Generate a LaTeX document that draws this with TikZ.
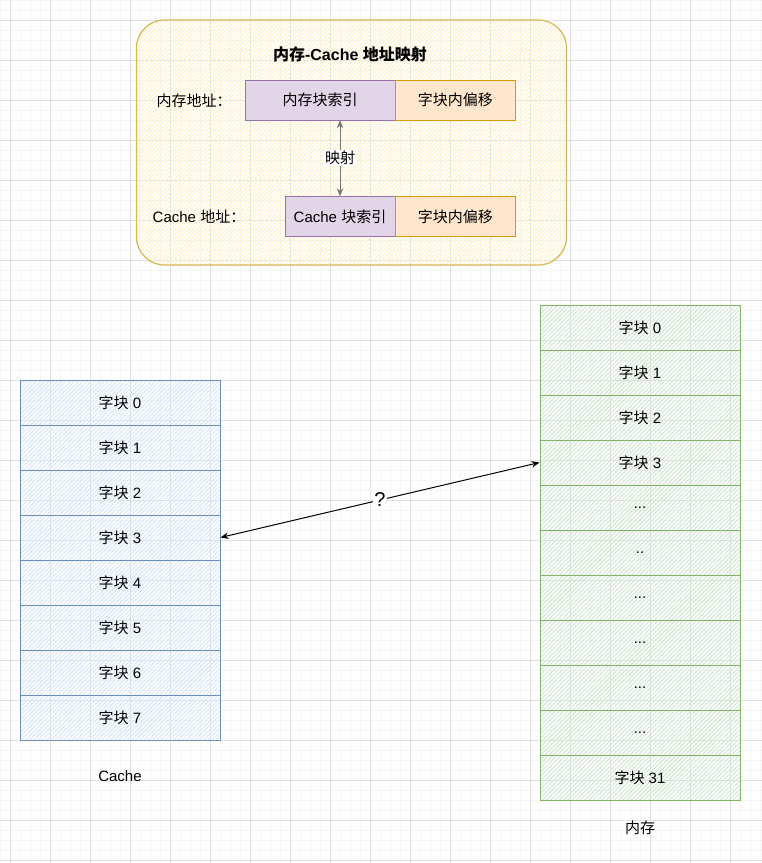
\documentclass[tikz,border=0pt]{standalone}
\usepackage{fontspec}
\setmainfont{Liberation Sans}
\newfontfamily\cjk{Noto Sans CJK SC}
\usetikzlibrary{arrows.meta,patterns.meta}
\definecolor{gridMin}{RGB}{245,245,245}
\definecolor{gridMaj}{RGB}{224,224,224}
\definecolor{frameD}{HTML}{D6B656}
\definecolor{frameF}{HTML}{FFF2CC}
\definecolor{idxD}{HTML}{9673A6}
\definecolor{idxF}{HTML}{E1D5E7}
\definecolor{offD}{HTML}{D79B00}
\definecolor{offF}{HTML}{FFE6CC}
\definecolor{cacheD}{HTML}{6C8EBF}
\definecolor{cacheF}{HTML}{DAE8FC}
\definecolor{memD}{HTML}{82B366}
\definecolor{memF}{HTML}{D5E8D4}
\definecolor{mapG}{RGB}{118,118,118}
\newcommand{\zh}[1]{{\cjk #1}}

\begin{document}
\begin{tikzpicture}[x=1pt, y=-1pt, font=\fontsize{15}{18}\selectfont,
  hatch/.style={pattern={Lines[angle=45,distance=3pt,line width=1.1pt]}, pattern color=#1},
  cblk/.style={draw=cacheD, line width=1pt, hatch=cacheF, minimum width=200pt, minimum height=45pt},
  mblk/.style={draw=memD, line width=1pt, hatch=memF, minimum width=200pt, minimum height=45pt},
  idx/.style={draw=idxD, fill=idxF, minimum height=40pt, inner sep=0pt},
  off/.style={draw=offD, fill=offF, minimum width=120pt, minimum height=40pt, inner sep=0pt},
  link/.style={{Stealth[length=8pt,width=6.5pt]}-{Stealth[length=8pt,width=6.5pt]}, line width=1pt}]
  \useasboundingbox (0,0) rectangle (762,863);
  % background grid
  \foreach \x in {0,10,...,760} \draw[gridMin, line width=0.75pt] (\x,0) -- (\x,863);
  \foreach \y in {0,10,...,860} \draw[gridMin, line width=0.75pt] (0,\y) -- (762,\y);
  \foreach \x in {10,50,...,730} \draw[gridMaj, line width=0.75pt] (\x,0) -- (\x,863);
  \foreach \y in {20,60,...,860} \draw[gridMaj, line width=0.75pt] (0,\y) -- (762,\y);

  % address mapping panel
  \node[draw=frameD, line width=1.2pt, hatch=frameF, rounded corners=28pt,
        minimum width=430pt, minimum height=245pt] (frame) at (351.5,142.5) {};
  \node[font=\fontsize{16}{19}\selectfont\bfseries] (title) at (350,54) {\zh{内存}-Cache \zh{地址映射}};
  \node[idx, minimum width=150pt] (midx) at (320,100) {\zh{内存块索引}};
  \node[off, anchor=west] (moff) at (midx.east) {\zh{字块内偏移}};
  \node[idx, minimum width=110pt] (cidx) at (340,216.5) {Cache \zh{块索引}};
  \node[off, anchor=west] (coff) at (cidx.east) {\zh{字块内偏移}};
  \node (mlab) at (194,101) {\zh{内存地址：}};
  \node (clab) at (199,217) {Cache \zh{地址：}};
  \draw[link, mapG] (cidx.north) -- (cidx.north |- midx.south)
       node[midway, fill=white, inner sep=1pt, text=black] (map) {\zh{映射}};

  % cache blocks
  \foreach \i in {0,...,7}
    \node[cblk] (c\i) at (120,402.5+45*\i) {\zh{字块} \i};
  \node (cname) at (120,776) {Cache};

  % memory blocks
  \foreach \t [count=\i from 0] in {{\zh{字块} 0},{\zh{字块} 1},{\zh{字块} 2},{\zh{字块} 3},
      .{}.{}.,.{}.,.{}.{}.,.{}.{}.,.{}.{}.,.{}.{}.,{\zh{字块} 31}}
    \node[mblk] (m\i) at (640,327.5+45*\i) {\t};
  \node (mname) at (640,828) {\zh{内存}};

  \draw[link] (c3.east) -- (m3.west)
       node[midway, fill=white, inner sep=1pt, font=\fontsize{20}{22}\selectfont] (q) {?};
\end{tikzpicture}
\end{document}
